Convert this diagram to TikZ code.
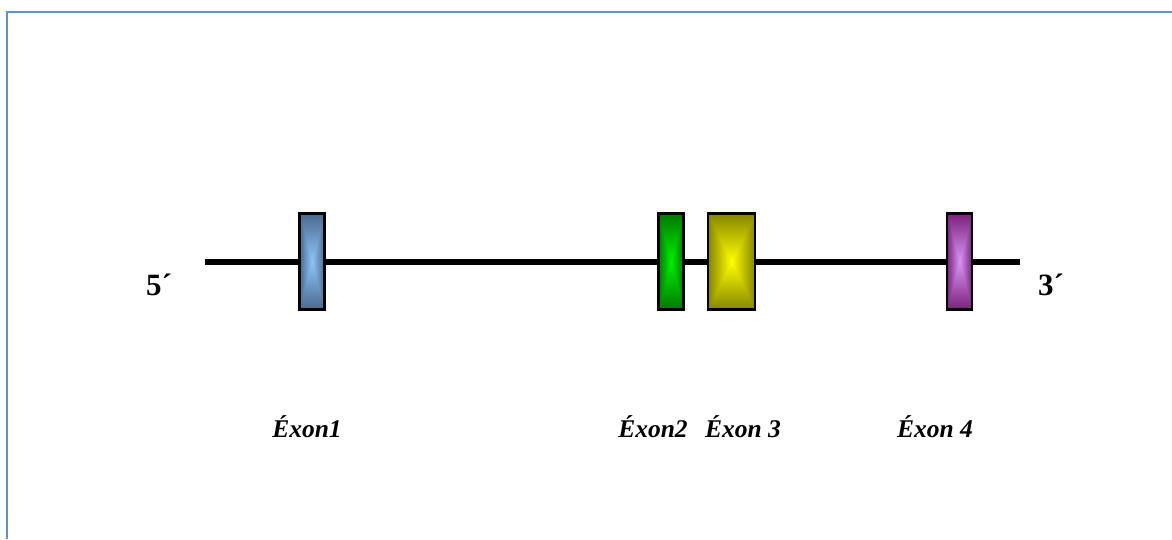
\documentclass[tikz,border=0pt]{standalone}
\usepackage{fontspec}
\setmainfont{Liberation Serif}
\definecolor{framec}{HTML}{5B8FD9}
\definecolor{bluedark}{HTML}{4A6A90}
\definecolor{bluelight}{HTML}{8EC4F8}
\definecolor{greendark}{HTML}{007800}
\definecolor{greenlight}{HTML}{00F000}
\definecolor{yellowdark}{HTML}{858500}
\definecolor{yellowlight}{HTML}{FFFF00}
\definecolor{purpledark}{HTML}{7A227A}
\definecolor{purplelight}{HTML}{D994F5}
\tikzset{
  exon/.style 2 args={draw=black, line width=2.5pt, inner sep=0pt, minimum height=96pt,
    path picture={
      \path (path picture bounding box.south west) coordinate (pSW)
            (path picture bounding box.north east) coordinate (pNE)
            (path picture bounding box.north west) coordinate (pNW)
            (path picture bounding box.south east) coordinate (pSE)
            (path picture bounding box.center) coordinate (pC);
      \shade[left color=#1, right color=#1, middle color=#2] (pSW) rectangle (pNE);
      \begin{scope}
        \clip (pNW) -- (pNE) -- (pC) -- cycle;
        \shade[top color=#1, bottom color=#2] (pNW) rectangle (pC -| pNE);
      \end{scope}
      \begin{scope}
        \clip (pSW) -- (pSE) -- (pC) -- cycle;
        \shade[top color=#2, bottom color=#1] (pC -| pSW) rectangle (pSE);
      \end{scope}
    }},
  lbl/.style={inner sep=0pt, anchor=base, font=\fontsize{25.5}{29}\selectfont\bfseries\itshape},
  endlbl/.style={inner sep=0pt, anchor=base, font=\fontsize{31}{35}\selectfont\bfseries},
  strand/.style={line width=5.5pt, black},
  frame/.style={framec, line width=2.5pt}
}
\begin{document}
\begin{tikzpicture}[x=1pt, y=-1pt]
  \useasboundingbox (0,0) rectangle (1172,539);
  % frame (top and left only)
  \coordinate (FTL) at (7,12);
  \coordinate (FTR) at (1172,12);
  \coordinate (FBL) at (7,539);
  \draw[frame] (FTR) -- (FTL) -- (FBL);
  % strand
  \coordinate (L) at (205,262);
  \coordinate (R) at (1020,262);
  \draw[strand] (L) -- (R);
  % exons
  \node[exon={bluedark}{bluelight}, minimum width=25pt] (e1) at (312,261.5) {};
  \node[exon={greendark}{greenlight}, minimum width=25pt] (e2) at (671,261.5) {};
  \node[exon={yellowdark}{yellowlight}, minimum width=47pt] (e3) at (731.5,261.5) {};
  \node[exon={purpledark}{purplelight}, minimum width=25pt] (e4) at (959.5,261.5) {};
  % end labels
  \node[endlbl] (p5) at (159,295) {5´};
  \node[endlbl] (p3) at (1051,295) {3´};
  % exon labels
  \node[lbl] (t1) at (307,437) {Éxon1};
  \node[lbl] (t2) at (653,437) {Éxon2};
  \node[lbl] (t3) at (743,437) {Éxon 3};
  \node[lbl] (t4) at (935,437) {Éxon 4};
\end{tikzpicture}
\end{document}
